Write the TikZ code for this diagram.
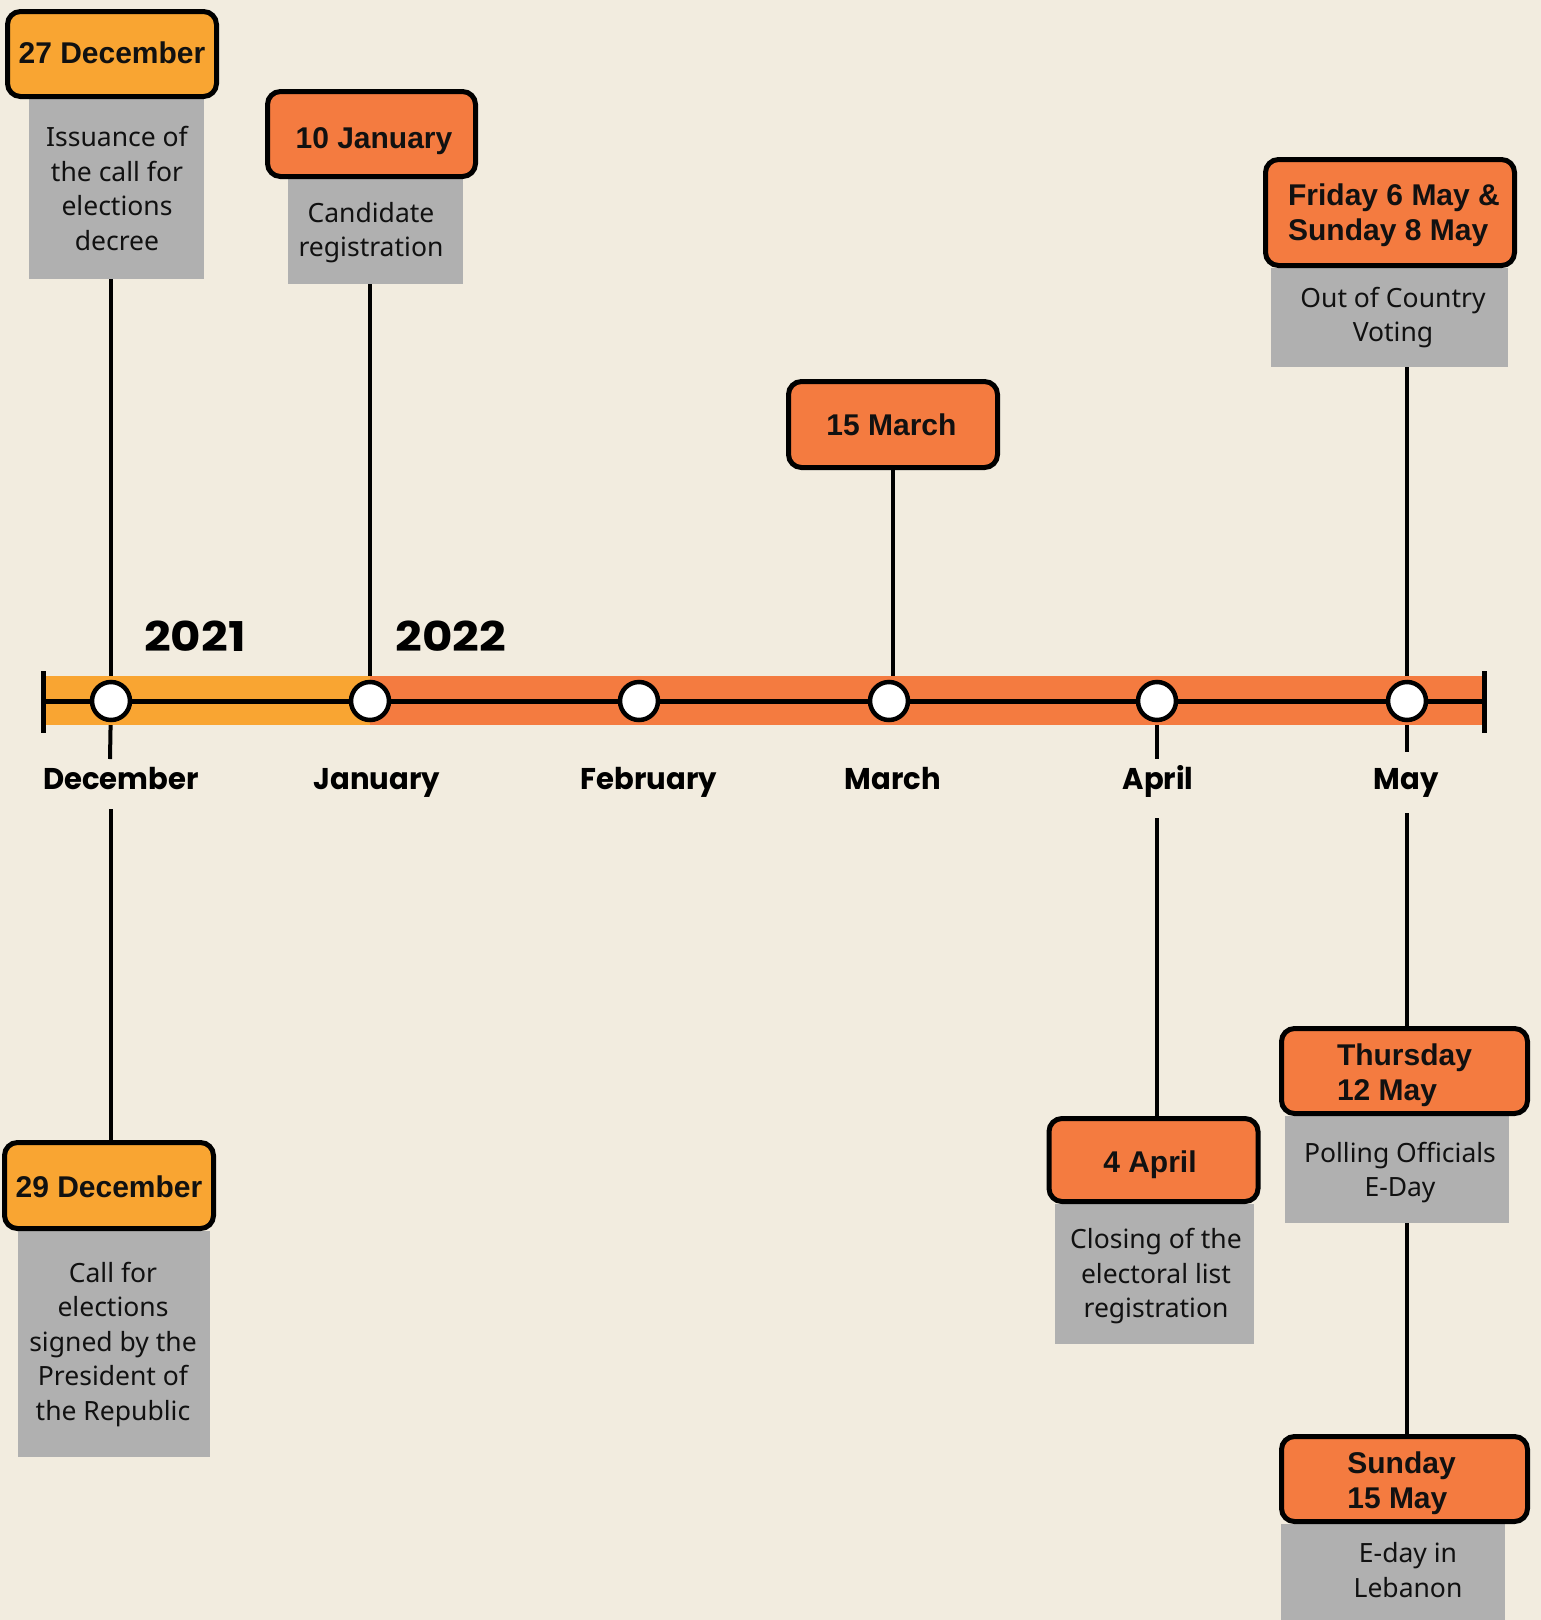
\documentclass[tikz,border=0pt]{standalone}
\usepackage{fontspec}
\newfontfamily\datefont{Liberation Sans}
\newfontfamily\descfont{Noto Sans}
\newfontfamily\monthfont{Poppins}[FakeStretch=0.97]
\newfontfamily\yearfont{Poppins}[FakeStretch=1.14]
\definecolor{bgc}{HTML}{F2ECDF}
\definecolor{lorange}{HTML}{F9A532}
\definecolor{dorange}{HTML}{F47B40}
\definecolor{greyc}{HTML}{B0B0B0}
\definecolor{inkc}{HTML}{111111}
% #1 declared height above last baseline, #2 twice the horizontal shift, #3 column type, #4 lines
\newcommand\boxtxt[4]{\raisebox{0pt}[#1][0pt]{\hspace*{#2}\begin{tabular}[b]{@{}#3@{}}#4\end{tabular}}}
\tikzset{
  datebox/.style={draw=black, line width=5pt, rounded corners=13pt, inner sep=0pt,
    font=\datefont\bfseries\fontsize{30}{35}\selectfont, text=inkc},
  descbox/.style={fill=greyc, inner sep=0pt, text=inkc,
    font=\descfont\fontsize{26.5}{34.5}\selectfont},
  conn/.style={line width=4pt, draw=black},
  dot/.style={circle, draw=black, fill=white, line width=4.5pt, minimum size=38pt, inner sep=0pt},
  month/.style={font=\monthfont\bfseries\fontsize{30}{36}\selectfont, anchor=base, text=black},
  yearlbl/.style={font=\yearfont\bfseries\fontsize{41}{48}\selectfont, anchor=base, text=black},
}
\begin{document}
\begin{tikzpicture}[x=1pt,y=-1pt]
\fill[bgc] (0,0) rectangle (1541,1620);
\useasboundingbox (0,0) rectangle (1541,1620);

% grey description boxes
\node[descbox, minimum width=175pt, minimum height=180pt] (g1) at (116.5,189) {\boxtxt{122pt}{1pt}{c}{Issuance of\\the call for\\elections\\decree}};
\node[descbox, minimum width=175pt, minimum height=105pt] (g2) at (375.5,231.5) {\boxtxt{50.4pt}{-9pt}{c}{Candidate\\registration}};
\node[descbox, minimum width=237pt, minimum height=99pt] (g6) at (1389.5,317.5) {\boxtxt{48.4pt}{7pt}{c}{Out of Country\\Voting}};
\node[descbox, minimum width=192pt, minimum height=226pt] (g0) at (114,1344) {\boxtxt{152pt}{-2pt}{c}{Call for\\elections\\signed by the\\President of\\the Republic}};
\node[descbox, minimum width=199pt, minimum height=140pt] (g5) at (1154.5,1274) {\boxtxt{87.6pt}{3pt}{c}{Closing of the\\electoral list\\registration}};
\node[descbox, minimum width=224pt, minimum height=107pt] (g7) at (1397,1169.5) {\boxtxt{54.4pt}{6pt}{c}{Polling Officials\\E-Day}};
\node[descbox, minimum width=224pt, minimum height=96pt] (g8) at (1393,1572) {\boxtxt{50.6pt}{30pt}{c}{E-day in\\Lebanon}};

% date boxes
\node[datebox, fill=lorange, minimum width=209pt, minimum height=85pt] (d1) at (112,54) {\boxtxt{18pt}{0pt}{l}{27 December}};
\node[datebox, fill=dorange, minimum width=208pt, minimum height=85pt] (d2) at (371.5,134) {\boxtxt{28.6pt}{5pt}{l}{10 January}};
\node[datebox, fill=dorange, minimum width=209pt, minimum height=86pt] (d3) at (893,424.5) {\boxtxt{21pt}{-3pt}{l}{15 March}};
\node[datebox, fill=dorange, minimum width=249pt, minimum height=106pt] (d6) at (1390,212.5) {\boxtxt{56.4pt}{8pt}{l}{Friday 6 May \&\\Sunday 8 May}};
\node[datebox, fill=lorange, minimum width=209pt, minimum height=86pt] (d0) at (109,1185.5) {\boxtxt{23pt}{0pt}{l}{29 December}};
\node[datebox, fill=dorange, minimum width=209pt, minimum height=83pt] (d5) at (1153.5,1160) {\boxtxt{24pt}{-7pt}{l}{4 April}};
\node[datebox, fill=dorange, minimum width=246pt, minimum height=85pt] (d7) at (1404.5,1071) {\boxtxt{58pt}{0pt}{l}{Thursday\\12 May}};
\node[datebox, fill=dorange, minimum width=246pt, minimum height=85pt] (d8) at (1404.5,1479) {\boxtxt{58.6pt}{-6pt}{l}{Sunday\\15 May}};

% timeline points
\coordinate (pdec) at (111,701);
\coordinate (pjan) at (370,701);
\coordinate (pfeb) at (639,701);
\coordinate (pmar) at (889,701);
\coordinate (papr) at (1157,701);
\coordinate (pmay) at (1407,701);
\coordinate (lend) at (43,701);
\coordinate (rend) at (1484,701);
\coordinate (tdec) at (110,759);
\coordinate (tapr) at (1157,759);
\coordinate (tmay) at (1407,752);
\coordinate (sdec) at (111,809);
\coordinate (sapr) at (1157,818);
\coordinate (smay) at (1407,813);

% connectors
\draw[conn] (pdec |- g1.south) -- (pdec);
\draw[conn] (pjan |- g2.south) -- (pjan);
\draw[conn] (d3.south) -- (d3.south |- pmar);
\draw[conn] (pmay |- g6.south) -- (pmay);
\draw[conn] (pdec) -- (tdec);
\draw[conn] (papr) -- (tapr);
\draw[conn] (pmay) -- (tmay);
\draw[conn] (sdec) -- (sdec |- d0.north);
\draw[conn] (sapr) -- (sapr |- d5.north);
\draw[conn] (smay) -- (smay |- d7.north);
\draw[conn] (g7.south -| smay) -- (smay |- d8.north);

% bar
\fill[lorange] (43,676) rectangle (370,725);
\fill[dorange] (370,676) rectangle (1484,725);
\draw[line width=5pt] (lend) -- (rend);
\draw[line width=5pt] (43,671) -- (lend) -- (43,733);
\draw[line width=5pt] (1484,671) -- (rend) -- (1484,733);

\node[dot] (cdec) at (pdec) {};
\node[dot] (cjan) at (pjan) {};
\node[dot] (cfeb) at (pfeb) {};
\node[dot] (cmar) at (pmar) {};
\node[dot] (capr) at (papr) {};
\node[dot] (cmay) at (pmay) {};

% labels
\node[yearlbl] (y21) at (195,651) {2021};
\node[yearlbl] (y22) at (451,651) {2022};
\node[month] (mdec) at (121,789) {December};
\node[month] (mjan) at (377,789) {January};
\node[month] (mfeb) at (649,789) {February};
\node[month] (mmar) at (893,789) {March};
\node[month] (mapr) at (1158,789) {April};
\node[month] (mmay) at (1406,789) {May};
\end{tikzpicture}
\end{document}
